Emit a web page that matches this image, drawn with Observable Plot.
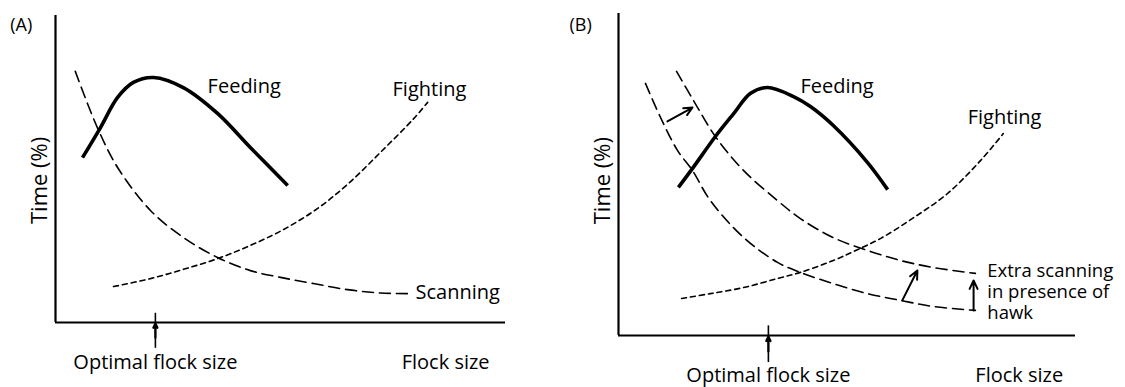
<!DOCTYPE html>
<html><head><meta charset="utf-8">
<script src="https://cdn.jsdelivr.net/npm/d3@7"></script>
<script src="https://cdn.jsdelivr.net/npm/@observablehq/plot@0.6"></script>
<style>
body{margin:0;background:#fff;}
#wrap{display:flex;width:1125px;height:387px;overflow:hidden;}
#wrap svg{font-family:"Open Sans",sans-serif;}
</style></head><body><div id="wrap"></div>
<script>
// ---------- Panel A data (flock size 0-100, time % 0-100) ----------
const feedingA_x  = [6.0, 10.0, 13.8, 17.3, 21.8, 28.4, 36.0, 43.3, 51.6];
const feedingA_y  = [53.7, 63.5, 73.3, 78.2, 79.8, 76.5, 68.1, 57.0, 44.6];
const scanningA_x = [4.4, 9.3, 13.8, 21.1, 28.4, 36.0, 43.3, 50.0, 57.3, 64.9, 72.2, 78.9];
const scanningA_y = [81.8, 63.5, 50.5, 36.5, 27.7, 21.2, 16.9, 14.7, 12.7, 10.7, 9.6, 9.4];
const fightingA_x = [12.9, 21.1, 28.4, 36.0, 43.3, 50.7, 58.2, 64.9, 72.2, 79.6, 82.7];
const fightingA_y = [11.7, 14.3, 17.3, 20.8, 25.1, 30.3, 37.1, 45.0, 55.4, 66.4, 71.7];
const optimalA = 22.2;

// ---------- Panel B data ----------
const feedingB_x  = [13.1, 16.2, 21.2, 25.2, 28.9, 32.6, 38.3, 42.0, 47.0, 54.5, 58.9];
const feedingB_y  = [46.0, 51.9, 61.8, 68.9, 75.2, 77.0, 74.2, 71.1, 65.2, 53.7, 45.3];
const scanningB_x = [5.9, 9.2, 12.9, 16.2, 20.1, 27.4, 34.8, 39.8, 47.0, 54.5, 61.7, 68.9, 78.1];
const scanningB_y = [78.3, 67.7, 57.5, 51.2, 41.9, 30.4, 22.7, 19.6, 16.1, 13.0, 10.9, 9.0, 7.8];
const hawkB_x     = [12.7, 16.4, 21.2, 27.4, 34.8, 39.8, 47.0, 54.5, 61.7, 68.9, 78.1];
const hawkB_y     = [82.0, 73.0, 61.8, 51.2, 41.9, 36.3, 30.4, 26.4, 23.3, 21.1, 19.3];
const fightingB_x = [13.8, 20.1, 27.4, 34.8, 39.8, 47.0, 51.9, 57.3, 64.6, 72.0, 79.2, 84.2];
const fightingB_y = [11.5, 13.0, 14.9, 17.7, 19.6, 23.3, 26.4, 30.1, 36.6, 44.1, 54.3, 62.7];
const optimalB = 32.8;

// shift arrows in panel B (from normal to hawk-present scanning)
const shiftB_x1 = [10.7, 62.1, 77.7];
const shiftB_y1 = [66.5, 10.9, 7.8];
const shiftB_x2 = [16.2, 65.4, 77.7];
const shiftB_y2 = [70.8, 20.2, 17.1];

// ---------- text labels ----------
const labelsA = [
  {text: "Feeding",  x: 33.8, y: 76.9},
  {text: "Fighting", x: 74.9, y: 76.0},
  {text: "Scanning", x: 80.0, y: 9.9}
];
const labelsB = [
  {text: "Feeding",  x: 39.8, y: 77.2},
  {text: "Fighting", x: 76.4, y: 67.8}
];
const hawkNote = {text: "Extra scanning\nin presence of\nhawk", x: 80.7, y: 13.7};

const zip = (xs, ys) => xs.map((x, i) => ({x, y: ys[i]}));

function panel({w, ml, mr, mt, mb, feeding, scanning, hawk, fighting, optimal, letter, letterPos, timePos, bottomY, flockX, labels, arrows, note}) {
  const marks = [
    Plot.ruleX([0], {y1: 0, y2: 100, stroke: "black", strokeWidth: 2.2}),
    Plot.ruleY([0], {x1: 0, x2: 100, stroke: "black", strokeWidth: 2.2}),
    Plot.line(scanning, {x: "x", y: "y", curve: "catmull-rom", stroke: "black", strokeWidth: 1.6, strokeDasharray: "11,6"}),
  ];
  if (hawk) marks.push(Plot.line(hawk, {x: "x", y: "y", curve: "catmull-rom", stroke: "black", strokeWidth: 1.6, strokeDasharray: "11,6"}));
  marks.push(
    Plot.line(fighting, {x: "x", y: "y", curve: "catmull-rom", stroke: "black", strokeWidth: 1.6, strokeDasharray: "5,4"}),
    Plot.line(feeding, {x: "x", y: "y", curve: "catmull-rom", stroke: "black", strokeWidth: 3.6, strokeLinecap: "butt"}),
    Plot.ruleX([optimal], {y1: -8.4, y2: 3.0, stroke: "black", strokeWidth: 1.6}),
    Plot.arrow([optimal], {x1: d => d, x2: d => d, y1: -5, y2: -0.3, stroke: "black", strokeWidth: 2.2, headLength: 7, headAngle: 50}),
    Plot.text(["Optimal flock size"], {x: optimal, y: bottomY, fontSize: 20, fill: "black"}),
    Plot.text(["Flock size"], {x: flockX, y: bottomY, fontSize: 20, fill: "black"}),
    Plot.text([letter], {x: letterPos[0], y: letterPos[1], fontSize: 18, fill: "black"}),
    Plot.text(["Time (%)"], {x: timePos[0], y: timePos[1], rotate: -90, fontSize: 22, fill: "black"}),
    Plot.text(labels, {x: "x", y: "y", text: "text", textAnchor: "start", fontSize: 20, fill: "black"})
  );
  if (note) marks.push(Plot.text([note], {x: "x", y: "y", text: "text", textAnchor: "start", lineAnchor: "middle", lineHeight: 1.12, fontSize: 18.5, fill: "black"}));
  if (arrows) marks.push(Plot.arrow(arrows, {x1: "x1", y1: "y1", x2: "x2", y2: "y2", stroke: "black", strokeWidth: 2, headLength: 7, headAngle: 50}));
  return Plot.plot({
    width: w, height: 387,
    marginLeft: ml, marginRight: mr, marginTop: mt, marginBottom: mb,
    x: {domain: [0, 100], axis: null},
    y: {domain: [0, 100], axis: null},
    style: {background: "white", overflow: "visible"},
    marks
  });
}

const A = panel({
  w: 560, ml: 55, mr: 55, mt: 15, mb: 65,
  feeding: zip(feedingA_x, feedingA_y),
  scanning: zip(scanningA_x, scanningA_y),
  fighting: zip(fightingA_x, fightingA_y),
  optimal: optimalA,
  letter: "(A)", letterPos: [-7.6, 96.7], timePos: [-3.4, 46.3],
  bottomY: -12.9, flockX: 86.7,
  labels: labelsA
});
const B = panel({
  w: 565, ml: 58, mr: 50, mt: 13, mb: 52,
  feeding: zip(feedingB_x, feedingB_y),
  scanning: zip(scanningB_x, scanningB_y),
  hawk: zip(hawkB_x, hawkB_y),
  fighting: zip(fightingB_x, fightingB_y),
  optimal: optimalB,
  letter: "(B)", letterPos: [-8.3, 96.3], timePos: [-3.5, 48.1],
  bottomY: -12.3, flockX: 87.7,
  labels: labelsB,
  note: hawkNote,
  arrows: shiftB_x1.map((x1, i) => ({x1, y1: shiftB_y1[i], x2: shiftB_x2[i], y2: shiftB_y2[i]}))
});
document.getElementById("wrap").append(A, B);
</script></body></html>
